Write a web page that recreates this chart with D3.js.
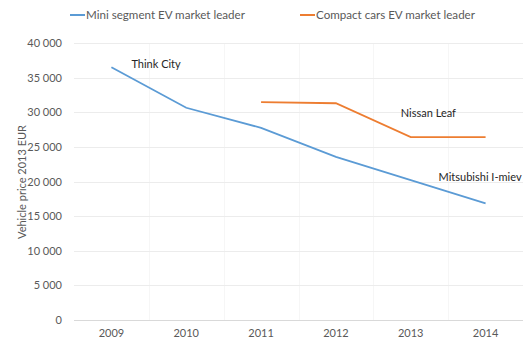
<!DOCTYPE html>
<html>
<head>
<meta charset="utf-8">
<script src="https://cdn.jsdelivr.net/npm/d3@7"></script>
<style>
  body { margin: 0; background: #fff; }
  text { font-family: Lato, 'Open Sans', sans-serif; }
</style>
</head>
<body>
<div id="chart"></div>
<script>
// data
var years = ['2009', '2010', '2011', '2012', '2013', '2014']
var miniValues = [36500, 30650, 27750, 23550, 20200, 16850]
var compactYears = ['2011', '2012', '2013', '2014']
var compactValues = [31450, 31300, 26400, 26400]
var yTicks = [0, 5000, 10000, 15000, 20000, 25000, 30000, 35000, 40000]
var seriesNames = ['Mini segment EV market leader', 'Compact cars EV market leader']
var seriesColors = ['#5b9bd5', '#ed7d31']
var pointLabels = [
  { text: 'Think City', year: '2009', value: 36500, dx: 20, dy: 1 },
  { text: 'Nissan Leaf', year: '2013', value: 26400, dx: -10, dy: -20 },
  { text: 'Mitsubishi I-miev', year: '2014', value: 16850, dx: -47, dy: -22 }
]

var W = 530
var H = 343
var margin = { top: 43, right: 7, bottom: 23, left: 74 }

var svg = d3.select('#chart')
  .append('svg')
  .attr('width', W)
  .attr('height', H)

var x = d3.scaleBand()
  .domain(years)
  .range([margin.left, W - margin.right])

var y = d3.scaleLinear()
  .domain([0, 40000])
  .range([H - margin.bottom, margin.top])

var fmt = function (d) { return d3.format(',')(d).replace(',', ' ') }

// very faint vertical band lines
svg.append('g')
  .selectAll('line')
  .data(years.slice(1))
  .enter()
  .append('line')
  .attr('x1', function (d) { return Math.round(x(d)) + 0.5 })
  .attr('x2', function (d) { return Math.round(x(d)) + 0.5 })
  .attr('y1', margin.top)
  .attr('y2', H - margin.bottom)
  .attr('stroke', '#f6f6f6')

// gridlines
svg.append('g')
  .selectAll('line')
  .data(yTicks)
  .enter()
  .append('line')
  .attr('x1', margin.left)
  .attr('x2', W - margin.right)
  .attr('y1', function (d) { return Math.round(y(d)) + 0.5 })
  .attr('y2', function (d) { return Math.round(y(d)) + 0.5 })
  .attr('stroke', function (d) { return d === 0 ? '#d9d9d9' : '#ececec' })
  .attr('stroke-width', 1)

// y axis labels
var yAxis = svg.append('g')
  .attr('transform', 'translate(' + (margin.left - 12) + ',0)')
  .call(d3.axisLeft(y).tickValues(yTicks).tickFormat(fmt).tickSize(0).tickPadding(0))
yAxis.select('.domain').remove()
yAxis.selectAll('text')
  .style('font-size', '11px')
  .attr('fill', '#595959')

// x axis labels
var xAxis = svg.append('g')
  .attr('transform', 'translate(0,' + (H - margin.bottom) + ')')
  .call(d3.axisBottom(x).tickSize(0).tickPadding(9))
xAxis.select('.domain').remove()
xAxis.selectAll('text')
  .style('font-size', '11px')
  .attr('fill', '#595959')

// y axis title
svg.append('text')
  .attr('transform', 'translate(26,' + 182 + ') rotate(-90)')
  .attr('text-anchor', 'middle')
  .style('font-size', '11px')
  .attr('fill', '#595959')
  .text('Vehicle price 2013 EUR')

var cx = function (yr) { return x(yr) + x.bandwidth() / 2 }

var line = d3.line()
  .x(function (d) { return cx(d[0]) })
  .y(function (d) { return y(d[1]) })

svg.append('path')
  .datum(d3.zip(years, miniValues))
  .attr('d', line)
  .attr('fill', 'none')
  .attr('stroke', seriesColors[0])
  .attr('stroke-width', 1.8)

svg.append('path')
  .datum(d3.zip(compactYears, compactValues))
  .attr('d', line)
  .attr('fill', 'none')
  .attr('stroke', seriesColors[1])
  .attr('stroke-width', 1.8)

// point labels
svg.append('g')
  .selectAll('text')
  .data(pointLabels)
  .enter()
  .append('text')
  .attr('x', function (d) { return cx(d.year) + d.dx })
  .attr('y', function (d) { return y(d.value) + d.dy })
  .style('font-size', '11px')
  .attr('fill', '#262626')
  .text(function (d) { return d.text })

// legend
var legendX = [70, 300]
var legend = svg.append('g')
  .selectAll('g')
  .data(seriesNames)
  .enter()
  .append('g')
  .attr('transform', function (d, i) { return 'translate(' + legendX[i] + ',15)' })
legend.append('line')
  .attr('x1', 0)
  .attr('x2', 15)
  .attr('stroke', function (d, i) { return seriesColors[i] })
  .attr('stroke-width', 2)
legend.append('text')
  .attr('x', 16)
  .attr('y', 4)
  .style('font-size', '11.6px')
  .attr('fill', '#595959')
  .text(function (d) { return d })
</script>
</body>
</html>
